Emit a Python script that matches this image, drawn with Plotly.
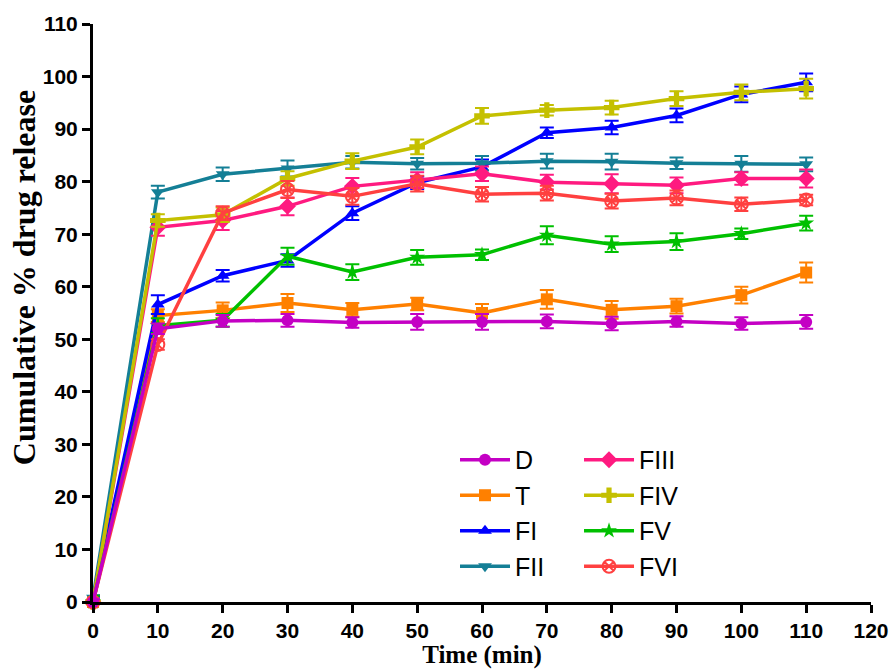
import plotly.graph_objects as go

time = [0, 10, 20, 30, 40, 50, 60, 70, 80, 90, 100, 110]

D = [0, 52.0, 53.5, 53.6, 53.2, 53.3, 53.3, 53.4, 53.0, 53.4, 53.0, 53.3]
T = [0, 54.5, 55.5, 56.9, 55.6, 56.7, 55.0, 57.6, 55.6, 56.3, 58.4, 62.7]
FI = [0.5, 56.6, 62.1, 65.0, 74.0, 79.8, 82.8, 89.3, 90.3, 92.6, 96.6, 98.9]
FII = [0.8, 78.0, 81.4, 82.5, 83.7, 83.4, 83.5, 83.9, 83.8, 83.5, 83.4, 83.3]
FIII = [0, 71.3, 72.6, 75.3, 79.1, 80.3, 81.5, 79.9, 79.6, 79.3, 80.6, 80.6]
FIV = [0, 72.6, 73.7, 80.6, 83.9, 86.6, 92.5, 93.6, 94.1, 95.8, 97.0, 97.7]
FV = [0, 52.6, 53.6, 65.8, 62.8, 65.6, 66.1, 69.8, 68.1, 68.6, 70.1, 72.1]
FVI = [0, 49.0, 74.0, 78.5, 77.2, 79.6, 77.6, 77.8, 76.3, 76.9, 75.7, 76.5]

D_err = [0.5, 1.0, 1.1, 1.2, 1.0, 1.5, 1.5, 1.3, 1.3, 1.0, 1.2, 1.3]
T_err = [0.5, 1.2, 1.5, 1.7, 1.3, 1.2, 1.7, 1.8, 1.7, 1.4, 1.6, 1.9]
FI_err = [0.5, 1.8, 1.1, 1.2, 1.3, 1.2, 1.4, 1.0, 1.3, 1.3, 1.5, 1.7]
FII_err = [0.5, 1.2, 1.3, 1.5, 1.2, 1.1, 1.4, 1.4, 1.5, 1.1, 1.5, 1.3]
FIII_err = [0.5, 1.6, 1.8, 1.7, 1.6, 1.5, 1.4, 1.4, 1.8, 1.5, 1.2, 1.7]
FIV_err = [0.5, 1.2, 1.4, 1.4, 1.5, 1.4, 1.5, 1.0, 1.3, 1.4, 1.5, 1.9]
FV_err = [1.2, 1.4, 1.2, 1.6, 1.5, 1.4, 1.0, 1.7, 1.5, 1.6, 1.0, 1.4]
FVI_err = [0.5, 1.0, 1.3, 1.6, 1.6, 1.5, 1.4, 1.4, 1.4, 1.4, 1.3, 1.0]

series = [
    ("T", T, T_err, "#ff8000", "square", "legend", 2),
    ("FI", FI, FI_err, "#0000ff", "triangle-up", "legend", 3),
    ("FII", FII, FII_err, "#147f96", "triangle-down", "legend", 4),
    ("FIII", FIII, FIII_err, "#ff1a80", "diamond", "legend2", 5),
    ("FIV", FIV, FIV_err, "#c4c000", "cross", "legend2", 6),
    ("FV", FV, FV_err, "#00c000", "star", "legend2", 7),
    ("FVI", FVI, FVI_err, "#ff4040", "circle-x-open", "legend2", 8),
    ("D", D, D_err, "#c400c4", "circle", "legend", 1),
]

fig = go.Figure()
for name, vals, err, color, sym, leg, rank in series:
    mk = dict(symbol=sym, size=12, color=color)
    if sym.endswith("open"):
        mk["line"] = dict(width=2, color=color)
        mk["size"] = 13
    if sym == "cross":
        mk["size"] = 13
    if sym == "diamond":
        mk["size"] = 13
    fig.add_trace(go.Scatter(
        x=time, y=vals, name=name, mode="lines+markers",
        line=dict(color=color, width=3.5),
        marker=mk,
        error_y=dict(type="data", array=err, visible=True, color=color, thickness=2, width=7),
        cliponaxis=False,
        legend=leg, legendrank=rank,
    ))

leg_font = dict(family="Liberation Sans, Arial, sans-serif", size=25, color="black")
fig.update_layout(
    width=890, height=669,
    margin=dict(l=93, r=19, t=24, b=67, autoexpand=False),
    plot_bgcolor="white", paper_bgcolor="white",
    legend=dict(x=0.4653, y=0.2855, xanchor="left", yanchor="top", font=leg_font,
                bgcolor="rgba(0,0,0,0)", traceorder="normal", itemwidth=50,
                tracegroupgap=0),
    legend2=dict(x=0.6247, y=0.2855, xanchor="left", yanchor="top", font=leg_font,
                 bgcolor="rgba(0,0,0,0)", traceorder="normal", itemwidth=50,
                 tracegroupgap=0),
    xaxis=dict(
        range=[0, 120], tickmode="array", tickvals=list(range(0, 121, 10)),
        showgrid=False, zeroline=False, showline=True, linecolor="black", linewidth=3,
        ticks="outside", ticklen=8, tickwidth=3, tickcolor="black",
        tickfont=dict(family="Liberation Sans, Arial, sans-serif", size=21, color="black", weight="bold"),
        title=dict(text="<b>Time (min)</b>", standoff=6,
                   font=dict(family="Liberation Serif, Times New Roman, serif", size=25, color="black")),
        automargin=False,
    ),
    yaxis=dict(
        range=[0, 110], tickmode="array", tickvals=list(range(0, 111, 10)),
        showgrid=False, zeroline=False, showline=True, linecolor="black", linewidth=3,
        ticks="outside", ticklen=8, tickwidth=3, tickcolor="black",
        tickfont=dict(family="Liberation Sans, Arial, sans-serif", size=21, color="black", weight="bold"),
        automargin=False,
    ),
    annotations=[dict(
        text="<b>Cumulative % drug release</b>", textangle=-90,
        xref="paper", yref="paper", x=-0.0887, y=0.562,
        xanchor="center", yanchor="middle", showarrow=False,
        font=dict(family="Liberation Serif, Times New Roman, serif", size=32, color="black"),
    )],
)

fig.write_html(
    "out.html",
    config={"displayModeBar": False},
    post_script="document.body.style.margin='0';document.body.style.overflow='hidden';",
)
